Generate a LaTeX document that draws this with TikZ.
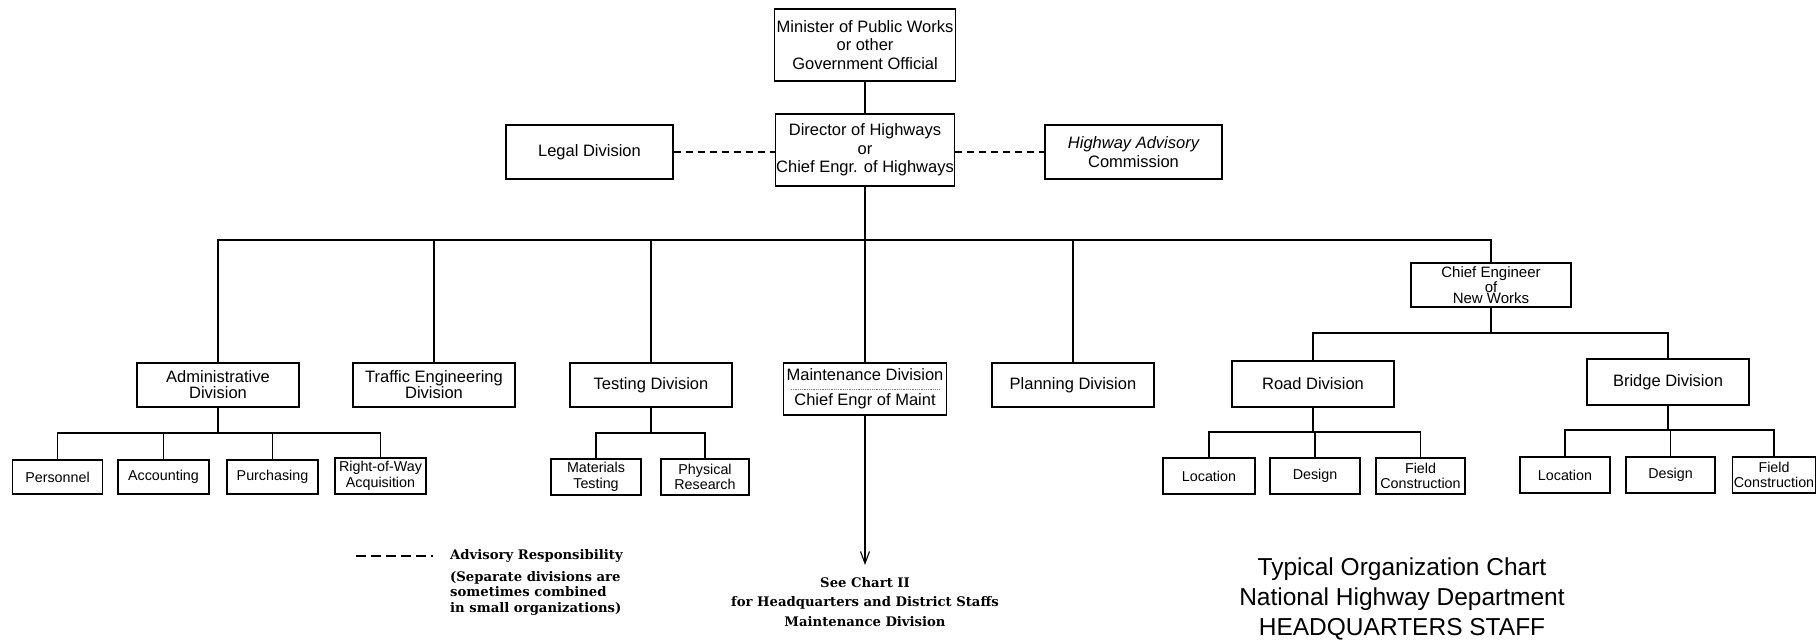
\documentclass[tikz,border=0pt]{standalone}
\usepackage{fontspec}
\setmainfont{DejaVu Serif}
\newfontfamily\lett{Liberation Sans}
\usetikzlibrary{arrows.meta}
\begin{document}
\begin{tikzpicture}[x=1pt,y=-1pt,
  box/.style 2 args={draw, line width=1.1pt, minimum width=#1pt, minimum height=#2pt,
    inner sep=1pt, align=center, font=\lett\fontsize{16.5}{18.5}\selectfont},
  sbox/.style 2 args={box={#1}{#2}, font=\lett\fontsize{14.3}{15.5}\selectfont},
  conn/.style={line width=1.1pt},
  adv/.style={line width=1.1pt, dash pattern=on 7pt off 5pt},
  note/.style={font=\bfseries\fontsize{13.2}{19.5}\selectfont, inner sep=0pt}
]
\useasboundingbox (0,0) rectangle (1819,640);

% top
\node[box={181}{72}] (min) at (865,45) {Minister of Public Works\\or other\\Government Official};
\node[box={179}{72}] (dir) at (865,150) {Director of Highways\\or\\Chief Engr. of Highways};
\node[box={167}{54}] (legal) at (589.5,152) {Legal Division};
\node[box={177}{54}] (hac) at (1133.5,152) {\itshape Highway Advisory\\Commission};
\node[box={160}{44}, font=\lett\fontsize{15}{11.6}\selectfont] (chief) at (1491,285) {Chief Engineer\\of\\New Works};

% level 2
\node[box={162}{44}, font=\lett\fontsize{16.5}{16}\selectfont] (admin) at (218,385) {Administrative\\Division};
\node[box={162}{44}, font=\lett\fontsize{16.5}{16}\selectfont] (traffic) at (434,385) {Traffic Engineering\\Division};
\node[box={162}{44}] (testing) at (651,385) {Testing Division};
\node[box={163}{52}, font=\lett\fontsize{16.5}{25}\selectfont] (maint) at (865,389) {Maintenance Division\\Chief Engr of Maint};
\node[box={162}{44}] (planning) at (1073,385) {Planning Division};
\node[box={162}{46}] (road) at (1313,384) {Road Division};
\node[box={162}{46}] (bridge) at (1668,382) {Bridge Division};

% level 3
\node[sbox={90}{34}] (pers) at (57.5,477) {Personnel};
\node[sbox={91}{34}] (acct) at (163.5,477) {Accounting};
\node[sbox={91}{34}] (purch) at (272.5,477) {Purchasing};
\node[sbox={91}{36}] (row) at (380.5,476) {Right-of-Way\\Acquisition};
\node[sbox={90}{36}] (mat) at (596,477) {Materials\\Testing};
\node[sbox={88}{36}] (phys) at (705,477) {Physical\\Research};
\node[sbox={92}{36}] (rloc) at (1209,476) {Location};
\node[sbox={90}{36}] (rdes) at (1315,476) {Design};
\node[sbox={89}{36}] (rfld) at (1420.5,476) {Field\\Construction};
\node[sbox={90}{36}] (bloc) at (1565,475) {Location};
\node[sbox={89}{36}] (bdes) at (1670.5,475) {Design};
\node[sbox={82}{36}] (bfld) at (1774,475) {Field\\Construction};

% connectors
\draw[conn] (min) -- (dir);
\draw[adv] (legal.east) -- (legal.east -| dir.west);
\draw[adv] (dir.east |- hac.west) -- (hac.west);
\coordinate (bus) at (865,240);
\draw[conn] (dir) -- (maint);
\draw[conn] (admin.north) |- (bus) -| (chief.north);
\foreach \n in {traffic,testing,planning} \draw[conn] (\n.north) -- (\n.north |- bus);

\coordinate (cbus) at (1491,333);
\draw[conn] (chief.south) -- (cbus);
\draw[conn] (road.north) |- (cbus) -| (bridge.north);

\coordinate (abus) at (218,433);
\draw[conn] (admin.south) -- (abus);
\draw[conn] (pers.north) |- (abus) -| (row.north);
\draw[conn] (acct.north) -- (acct.north |- abus);
\draw[conn] (purch.north) -- (purch.north |- abus);

\coordinate (tbus) at (651,433);
\draw[conn] (testing.south) -- (tbus);
\draw[conn] (mat.north) |- (tbus) -| (phys.north);

\coordinate (rbus) at (1313,432);
\draw[conn] (road.south) -- (rbus);
\draw[conn] (rloc.north) |- (rbus) -| (rfld.north);
\draw[conn] (rdes.north) -- (rdes.north |- rbus);

\coordinate (bbus) at (1668,430);
\draw[conn] (bridge.south) -- (bbus);
\draw[conn] (bloc.north) |- (bbus) -| (bfld.north);
\draw[conn] (bdes.north) -- (bdes.north |- bbus);

% maintenance divider and arrow
\draw[gray, densely dotted, line width=0.8pt] ([xshift=8pt]maint.west) -- ([xshift=-8pt]maint.east);
\coordinate (mend) at (865,565);
\draw[conn, -{Straight Barb[length=12pt,width=9pt]}] (maint.south) -- (mend);

% notes
\node[note, align=center] (see) at (865,602) {See Chart II\\for Headquarters and District Staffs\\Maintenance Division};
\coordinate (la) at (356,556);
\coordinate (lb) at (433,556);
\draw[line width=1.1pt, dash pattern=on 10pt off 5pt] (la) -- (lb);
\node[note, anchor=west] (advr) at (450,556) {Advisory Responsibility};
\node[note, anchor=west, align=left, font=\bfseries\fontsize{13.2}{15.5}\selectfont] (sep) at (450,593) {(Separate divisions are\\sometimes combined\\in small organizations)};

\node[font=\lett\fontsize{24.5}{30}\selectfont, align=center, inner sep=0pt] (title) at (1402,599) {Typical Organization Chart\\National Highway Department\\HEADQUARTERS STAFF};
\end{tikzpicture}
\end{document}
